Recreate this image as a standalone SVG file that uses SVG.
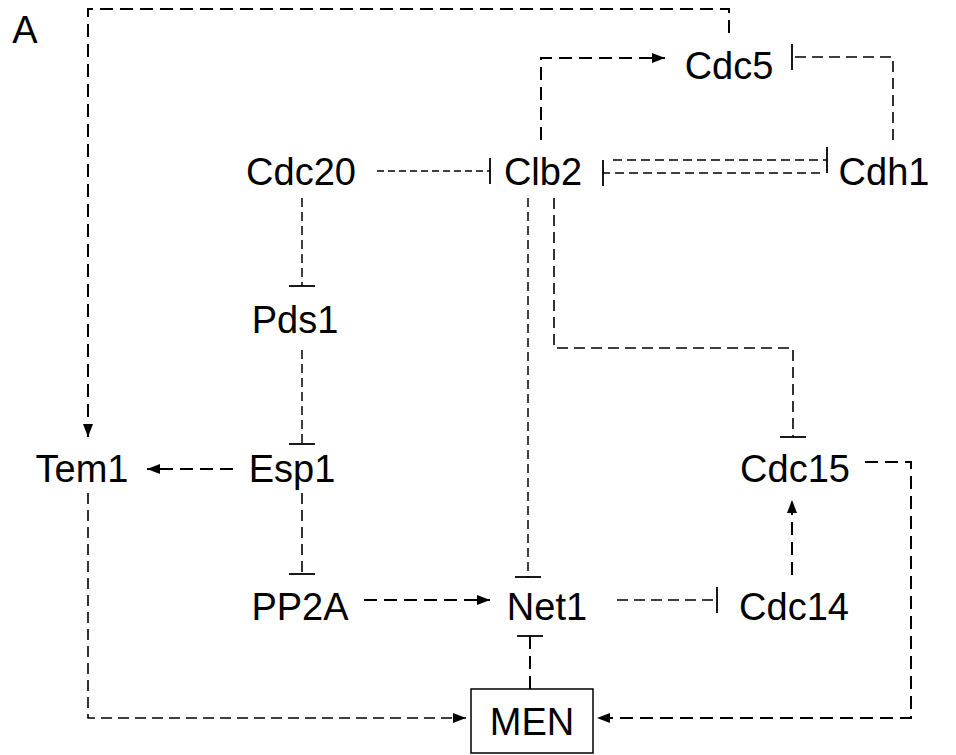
<svg xmlns="http://www.w3.org/2000/svg" width="956" height="755" viewBox="0 0 956 755">
<style>
text{font-family:"Liberation Sans",Arial,sans-serif;font-size:38px;fill:#000;text-anchor:middle}
.c{fill:none;stroke:#000}
.w2{stroke-width:2;stroke-dasharray:13 7}
.w15{stroke-width:1.6;stroke-dasharray:11 6}
.w13{stroke-width:1.5;stroke-dasharray:9 5}
.s{stroke-width:1.4;stroke-dasharray:7 4}
.a{marker-end:url(#arr)}
.t{marker-end:url(#tee)}
</style>
<defs>
<marker id="arr" markerUnits="userSpaceOnUse" viewBox="0 0 13 10" markerWidth="13" markerHeight="10" refX="13" refY="5" orient="auto">
<path d="M0,0 L13,5 L0,10 z" fill="#000"/>
</marker>
<marker id="tee" markerUnits="userSpaceOnUse" viewBox="-2 -14 4 28" markerWidth="4" markerHeight="28" refX="0" refY="0" orient="auto">
<path d="M0,-13 V13" stroke="#000" stroke-width="1.8" fill="none"/>
</marker>
</defs>
<text x="25" y="43">A</text>
<g id="connectors">
<path class="c w2 a" d="M729,33 V9 H88 V437"/>
<path class="c w2 a" d="M541,140 V58 H665"/>
<path class="c w15 t" d="M893,140 V57 H792"/>
<path class="c w13 t" d="M613,160 H827"/>
<path class="c w13 t" d="M820,173 H603"/>
<path class="c s t" d="M377,171 H490"/>
<path class="c w13 t" d="M302,198 V286"/>
<path class="c w13 t" d="M302,350 V444"/>
<path class="c w2 a" d="M233,469 H147"/>
<path class="c w15 t" d="M302,493 V574"/>
<path class="c w13 t" d="M528,198 V577"/>
<path class="c w15 t" d="M554,198 V348 H793 V437"/>
<path class="c w2 a" d="M364,600 H490"/>
<path class="c w15 t" d="M617,600 H717"/>
<path class="c w2 a" d="M792,575 V500"/>
<path class="c w2 a" d="M865,462 H911 V718 H597"/>
<path class="c w15 a" d="M88,493 V718 H466"/>
<path class="c w2 t" d="M530,689 V636"/>
</g>
<g id="Cdc5"><text x="729" y="79">Cdc5</text></g>
<g id="Cdc20"><text x="301" y="185">Cdc20</text></g>
<g id="Clb2"><text x="543" y="185">Clb2</text></g>
<g id="Cdh1"><text x="884" y="185">Cdh1</text></g>
<g id="Pds1"><text x="295" y="333">Pds1</text></g>
<g id="Tem1"><text x="82" y="482">Tem1</text></g>
<g id="Esp1"><text x="292" y="482">Esp1</text></g>
<g id="Cdc15"><text x="795" y="482">Cdc15</text></g>
<g id="PP2A"><text x="300" y="620">PP2A</text></g>
<g id="Net1"><text x="547" y="620">Net1</text></g>
<g id="Cdc14"><text x="794" y="620">Cdc14</text></g>
<g id="MEN"><rect x="471" y="689" width="122" height="64" fill="#fff" stroke="#000" stroke-width="1.5"/><text x="532" y="735">MEN</text></g>
</svg>
